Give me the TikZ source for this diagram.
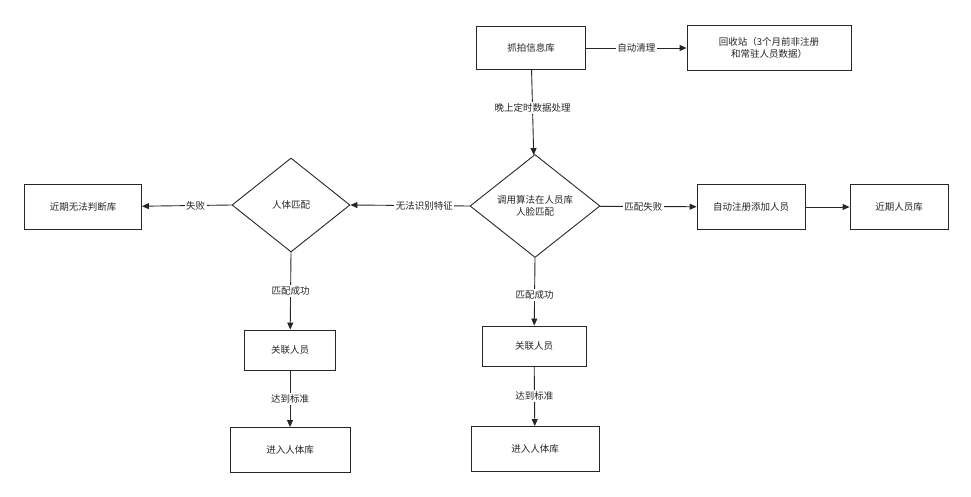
\documentclass[tikz,border=0pt]{standalone}
\usepackage{fontspec}
\setmainfont{Noto Sans CJK SC}
\usetikzlibrary{shapes.geometric,arrows.meta}
\begin{document}
\begin{tikzpicture}[x=1pt,y=-1pt,
  every node/.style={font=\fontsize{9.5}{12}\selectfont, text=black!85},
  box/.style={draw=black!85, line width=0.9pt, fill=white, minimum height=#1, align=center, inner sep=2pt},
  dia/.style={draw=black!85, line width=0.9pt, diamond, aspect=1.25, align=center, inner sep=0pt},
  arr/.style={draw=black!85, line width=0.9pt, -{Triangle[length=7pt,width=6pt]}},
  lab/.style={fill=white, inner sep=1.5pt}]
\useasboundingbox (0,0) rectangle (971,497);
\node[box=43pt, minimum width=109pt] (cap) at (531,48) {抓拍信息库};
\node[box=45pt, minimum width=164pt] (rec) at (769,48) {回收站（3个月前非注册\\和常驻人员数据）};
\node[dia, minimum width=130pt, minimum height=103pt] (alg) at (535,206) {调用算法在人员库\\人脸匹配};
\node[box=45pt, minimum width=108pt, text width=80pt] (reg) at (751,207) {自动注册添加人员};
\node[box=45pt, minimum width=98pt] (near) at (899,207) {近期人员库};
\node[dia, minimum width=118pt, minimum height=94pt] (body) at (291,205) {人体匹配};
\node[box=45pt, minimum width=117pt] (unk) at (83,207) {近期无法判断库};
\node[box=40pt, minimum width=91pt] (rel1) at (290,350) {关联人员};
\node[box=45pt, minimum width=120pt] (in1) at (290,450) {进入人体库};
\node[box=40pt, minimum width=104pt] (rel2) at (534,346) {关联人员};
\node[box=45pt, minimum width=128pt] (in2) at (535,449) {进入人体库};
\draw[arr] (cap) -- node[lab]{自动清理} (rec);
\draw[arr] (cap) -- node[lab, pos=0.45]{晚上定时数据处理} (alg);
\draw[arr] (alg) -- node[lab, pos=0.45]{匹配失败} (reg);
\draw[arr] (reg) -- (near);
\draw[arr] (alg.west) -- node[lab, pos=0.38]{无法识别特征} (body.east);
\draw[arr] (body.west) -- node[lab, pos=0.4]{失败} (unk);
\draw[arr] (body.south) -- node[lab, pos=0.5]{匹配成功} (rel1);
\draw[arr] (rel1) -- node[lab]{达到标准} (in1);
\draw[arr] (alg.south) -- node[lab, pos=0.55]{匹配成功} (rel2);
\draw[arr] (rel2) -- node[lab]{达到标准} (in2);
\end{tikzpicture}
\end{document}
